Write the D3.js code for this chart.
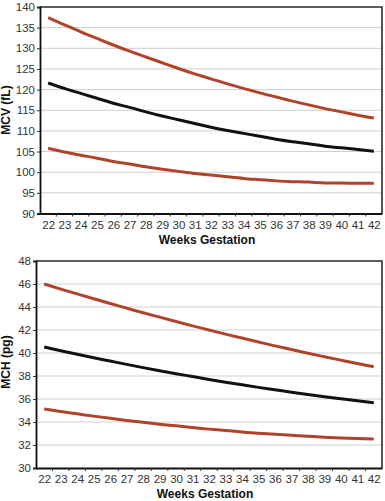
<!DOCTYPE html>
<html>
<head>
<meta charset="utf-8">
<script src="https://cdn.jsdelivr.net/npm/d3@7"></script>
<style>
  body { margin: 0; background: #fff; }
  svg { display: block; font-family: "Liberation Sans", Arial, sans-serif; }
</style>
</head>
<body>
<script>
// gestational weeks
const weeks = [22, 23, 24, 25, 26, 27, 28, 29, 30, 31, 32, 33, 34, 35, 36, 37, 38, 39, 40, 41, 42];

// MCV (fL) - upper limit, mean, lower limit
const mcvUpper = [137.4, 135.7, 134.0, 132.4, 130.8, 129.3, 127.9, 126.5, 125.1, 123.8, 122.6, 121.4, 120.3, 119.2, 118.2, 117.2, 116.3, 115.4, 114.6, 113.8, 113.1];
const mcvMean  = [121.6, 120.3, 119.1, 117.9, 116.7, 115.7, 114.6, 113.6, 112.7, 111.8, 110.9, 110.1, 109.4, 108.7, 108.0, 107.4, 106.9, 106.3, 105.9, 105.5, 105.1];
const mcvLower = [105.8, 104.9, 104.1, 103.4, 102.6, 102.0, 101.3, 100.7, 100.2, 99.7, 99.3, 98.9, 98.5, 98.2, 97.9, 97.7, 97.6, 97.4, 97.4, 97.3, 97.35];
const mcvTicks = [90, 95, 100, 105, 110, 115, 120, 125, 130, 135, 140];

// MCH (pg)
const mchUpper = [46.0, 45.56, 45.14, 44.72, 44.3, 43.9, 43.5, 43.12, 42.74, 42.36, 42.0, 41.64, 41.3, 40.96, 40.62, 40.3, 39.98, 39.68, 39.38, 39.08, 38.8];
const mchMean  = [40.52, 40.2, 39.89, 39.59, 39.3, 39.01, 38.73, 38.46, 38.2, 37.95, 37.7, 37.46, 37.23, 37.01, 36.8, 36.59, 36.39, 36.2, 36.02, 35.84, 35.68];
const mchLower = [35.13, 34.91, 34.71, 34.51, 34.32, 34.14, 33.97, 33.81, 33.67, 33.52, 33.38, 33.26, 33.13, 33.03, 32.93, 32.84, 32.76, 32.68, 32.61, 32.56, 32.52];
const mchTicks = [30, 32, 34, 36, 38, 40, 42, 44, 46, 48];

const RED = "#b0442b";
const DARK = "#111";

const svg = d3.select("body").append("svg")
    .attr("width", 385)
    .attr("height", 501);

function drawPanel(opts) {
    const g = svg.append("g");
    const x = d3.scaleLinear()
        .domain([weeks[0] - 0.5, weeks[weeks.length - 1] + 0.5])
        .range([opts.left, opts.right]);
    const y = d3.scaleLinear()
        .domain([opts.ticks[0], opts.ticks[opts.ticks.length - 1]])
        .range([opts.bottom, opts.top]);

    // gridlines
    g.selectAll(".grid").data(opts.ticks.slice(1, -1)).join("line")
        .attr("x1", opts.left).attr("x2", opts.right)
        .attr("y1", d => y(d)).attr("y2", d => y(d))
        .attr("stroke", "#cfcfcf").attr("stroke-width", 1);

    // frame top / right
    g.append("path")
        .attr("d", `M${opts.left},${opts.top}H${opts.right}V${opts.bottom}`)
        .attr("fill", "none").attr("stroke", "#2a2a2a").attr("stroke-width", 1.6);

    // y axis
    const yAxis = g.append("g")
        .attr("transform", `translate(${opts.left},0)`)
        .call(d3.axisLeft(y).tickValues(opts.ticks).tickSize(3).tickPadding(2));
    yAxis.select(".domain").attr("stroke", DARK).attr("stroke-width", 1.8);
    yAxis.selectAll(".tick line").attr("stroke", "#333");
    yAxis.selectAll("text").attr("font-size", 11.5).attr("fill", "#333");

    // x axis: labels at weeks, small ticks halfway between
    const xAxis = g.append("g")
        .attr("transform", `translate(0,${opts.bottom})`)
        .call(d3.axisBottom(x).tickValues(weeks).tickSize(0).tickPadding(7).tickFormat(d3.format("d")));
    xAxis.select(".domain").attr("stroke", DARK).attr("stroke-width", 1.8);
    xAxis.selectAll("text").attr("font-size", 11.5).attr("fill", "#333");
    g.selectAll(".half").data(weeks.slice(0, -1)).join("line")
        .attr("x1", d => x(d + 0.5)).attr("x2", d => x(d + 0.5))
        .attr("y1", opts.bottom).attr("y2", opts.bottom + 3)
        .attr("stroke", "#333");

    // titles
    g.append("text")
        .attr("x", (opts.left + opts.right) / 2 - 4)
        .attr("y", opts.bottom + 30)
        .attr("text-anchor", "middle")
        .attr("font-size", 12).attr("font-weight", "bold").attr("fill", "#111")
        .text("Weeks Gestation");
    g.append("text")
        .attr("transform", `translate(10,${opts.titleY}) rotate(-90)`)
        .attr("text-anchor", "middle")
        .attr("font-size", 12).attr("font-weight", "bold").attr("fill", "#111")
        .text(opts.title);

    const line = d3.line()
        .x((d, i) => x(weeks[i]))
        .y(d => y(d))
        .curve(d3.curveNatural);

    [[opts.upper, RED], [opts.lower, RED], [opts.mean, DARK]].forEach(([vals, c]) => {
        g.append("path")
            .datum(vals)
            .attr("d", line)
            .attr("fill", "none")
            .attr("stroke", c)
            .attr("stroke-width", 3);
    });
}

drawPanel({
    left: 40, right: 382, top: 7, bottom: 213.5,
    ticks: mcvTicks, upper: mcvUpper, mean: mcvMean, lower: mcvLower,
    title: "MCV (fL)", titleY: 110
});

drawPanel({
    left: 36, right: 382, top: 261, bottom: 468,
    ticks: mchTicks, upper: mchUpper, mean: mchMean, lower: mchLower,
    title: "MCH (pg)", titleY: 362
});
</script>
</body>
</html>
